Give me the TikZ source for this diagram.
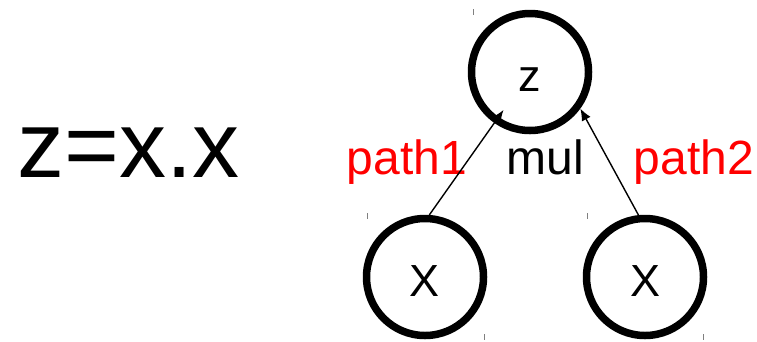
\documentclass[tikz,border=0pt]{standalone}
\usepackage{fontspec}
\setmainfont{Liberation Sans}
\usepackage{tikz}
\usetikzlibrary{arrows.meta}
\tikzstyle{varnode} = [circle,
minimum size=117pt,
inner sep=0pt,
line width=7.5pt,
draw=black,
text height=39pt,
text depth=0pt,
font=\fontsize{45}{54}\selectfont]
\tikzstyle{pathlabel} = [anchor=base, inner sep=0pt, text=red, font=\fontsize{48}{58}\selectfont]
\tikzstyle{oplabel} = [anchor=base, inner sep=0pt, font=\fontsize{48}{58}\selectfont]
\tikzstyle{arrow} = [line width=1.4pt,->,>={Latex[length=12pt,width=10pt]}]
\tikzstyle{cornermark} = [gray, line width=0.8pt]

\begin{document}
\begin{tikzpicture}[x=1pt, y=-1pt]
    \useasboundingbox (0,0) rectangle (757,341);

    \node (eq) [anchor=base west, inner sep=0pt, font=\fontsize{94}{112}\selectfont] at (17,177) {z=x.x};

    \node (z) [varnode] at (530,72) {z};
    \node (x1) [varnode] at (425,277) {X};
    \node (x2) [varnode] at (645,277) {X};

    % Edge labels
    \node (p1) [pathlabel] at (407,174) {path1};
    \node (mul) [oplabel] at (545,174) {mul};
    \node (p2) [pathlabel] at (694,174) {path2};

    % Edges
    \draw [arrow, shorten >=-16pt] (x1.86) -- (z.235);
    \draw [arrow] (x2.96) -- (z.324);

    % Text box corners
    \foreach \cx/\cy in {473/9, 367/213, 484/334, 587/213, 703/334}
        \draw [cornermark] (\cx,\cy) -- (\cx,\cy+6);
\end{tikzpicture}
\end{document}
